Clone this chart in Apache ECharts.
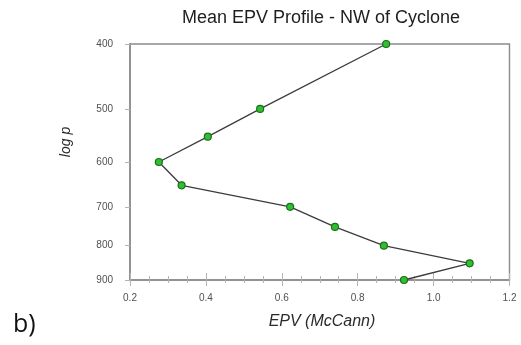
<!DOCTYPE html>
<html>
<head>
<meta charset="utf-8">
<script src="https://cdn.jsdelivr.net/npm/echarts@6/dist/echarts.min.js"></script>
<style>
  html, body { margin: 0; padding: 0; background: #fff; }
  #chart { width: 521px; height: 345px; }
</style>
</head>
<body>
<div id="chart"></div>
<script>
// Mean EPV profile, NW of the cyclone
const pressureLevels = [400, 500, 550, 600, 650, 700, 750, 800, 850, 900];
const epvValues = [0.875, 0.543, 0.405, 0.276, 0.336, 0.622, 0.740, 0.869, 1.095, 0.922];
const pressureTicks = [400, 500, 600, 700, 800, 900];
const epvTicks = [0.2, 0.4, 0.6, 0.8, 1.0, 1.2];

// pressure axis is drawn on a log10 scale
const log10 = v => Math.log10(v);
const points = epvValues.map((e, i) => [e, log10(pressureLevels[i])]);

const axisGrey = '#8c8c8c';
const tickGrey = '#b4b4b4';
const labelGrey = '#505050';
const font = '"Liberation Sans", Arial, Helvetica, sans-serif';

const chart = echarts.init(document.getElementById('chart'), null, { renderer: 'canvas' });

chart.setOption({
  animation: false,
  backgroundColor: '#ffffff',
  grid: {
    left: 130, right: 11.5, top: 44, bottom: 65,
    show: true, borderColor: axisGrey, borderWidth: 1.4, backgroundColor: 'transparent'
  },
  xAxis: [
    {
      type: 'value', min: epvTicks[0], max: epvTicks[epvTicks.length - 1], interval: 0.2,
      axisLine: { show: true, lineStyle: { color: axisGrey, width: 1.6 } },
      axisTick: { show: true, inside: true, length: 7, lineStyle: { color: tickGrey, width: 1 } },
      minorTick: { show: true, splitNumber: 4, length: 4, lineStyle: { color: tickGrey, width: 1 } },
      axisLabel: {
        margin: 13, color: labelGrey, fontSize: 10, fontFamily: font,
        formatter: v => v.toFixed(1)
      },
      splitLine: { show: false }
    },
    {
      // outward half of the crossing ticks
      type: 'value', position: 'bottom', min: epvTicks[0], max: epvTicks[epvTicks.length - 1], interval: 0.2,
      axisLine: { show: false },
      axisTick: { show: true, inside: false, length: 6, lineStyle: { color: tickGrey, width: 1 } },
      minorTick: { show: true, splitNumber: 4, length: 3, lineStyle: { color: tickGrey, width: 1 } },
      axisLabel: { show: false },
      splitLine: { show: false }
    }
  ],
  yAxis: {
    type: 'value', inverse: true,
    min: log10(pressureTicks[0]), max: log10(pressureTicks[pressureTicks.length - 1]),
    axisLine: { show: true, lineStyle: { color: axisGrey, width: 1.6 } },
    axisTick: {
      show: true, inside: false, length: 5,
      customValues: pressureTicks.map(log10),
      lineStyle: { color: tickGrey, width: 1 }
    },
    axisLabel: {
      margin: 17, color: labelGrey, fontSize: 10, fontFamily: font,
      customValues: pressureTicks.map(log10),
      formatter: v => String(Math.round(Math.pow(10, v)))
    },
    splitLine: { show: false }
  },
  series: [{
    type: 'line',
    data: points,
    xAxisIndex: 0,
    symbol: 'circle',
    symbolSize: 7,
    lineStyle: { color: '#3c3c3c', width: 1.3 },
    itemStyle: { color: '#2fbf2f', borderColor: '#1d6e1d', borderWidth: 1.2 },
    z: 5
  }],
  graphic: [
    {
      type: 'text', left: null, x: 321, y: 18,
      style: {
        text: 'Mean EPV Profile - NW of Cyclone', fill: '#1e1e1e',
        font: '18px ' + font, textAlign: 'center', textVerticalAlign: 'middle'
      }
    },
    {
      type: 'text', x: 322, y: 322,
      style: {
        text: 'EPV (McCann)', fill: '#2a2a2a',
        font: 'italic 16px ' + font, textAlign: 'center', textVerticalAlign: 'middle'
      }
    },
    {
      type: 'text', x: 66, y: 142, rotation: Math.PI / 2,
      style: {
        text: 'log p', fill: '#2a2a2a',
        font: 'italic 14px ' + font, textAlign: 'center', textVerticalAlign: 'middle'
      }
    },
    {
      type: 'text', x: 13, y: 325,
      style: {
        text: 'b)', fill: '#111111',
        font: '25px "Open Sans", "Noto Sans", sans-serif', textAlign: 'left', textVerticalAlign: 'middle'
      }
    }
  ]
});
</script>
</body>
</html>
